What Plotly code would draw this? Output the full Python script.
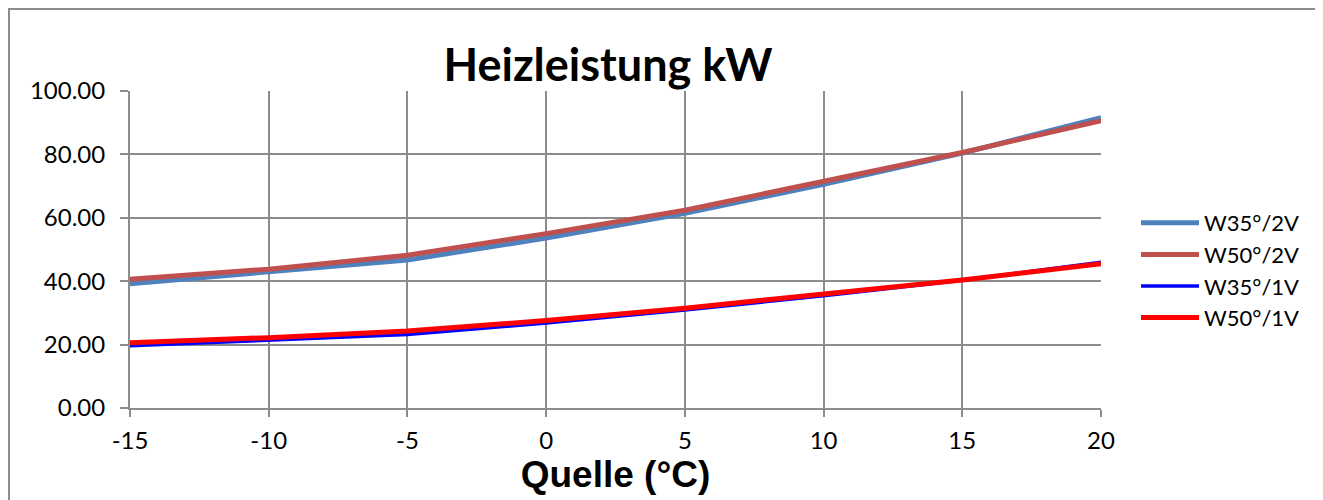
import plotly.graph_objects as go

quelle = [-15, -10, -5, 0, 5, 10, 15, 20]
w35_2v = [39.2, 42.8, 46.7, 53.6, 61.4, 70.6, 80.4, 91.6]
w50_2v = [40.6, 43.8, 48.2, 55.0, 62.4, 71.4, 80.6, 90.6]
w35_1v = [19.6, 21.4, 23.2, 26.8, 30.9, 35.4, 40.3, 46.0]
w50_1v = [20.6, 22.2, 24.3, 27.6, 31.5, 35.9, 40.4, 45.5]
series_names = ["W35°/2V", "W50°/2V", "W35°/1V", "W50°/1V"]
series_colors = ["#4F81BD", "#C0504D", "#0000FF", "#FF0000"]
series_widths = [5, 5, 3.5, 5]

fig = go.Figure()
for name, vals, col, w in zip(series_names, [w35_2v, w50_2v, w35_1v, w50_1v], series_colors, series_widths):
    fig.add_trace(go.Scatter(x=quelle, y=vals, mode="lines", name=name,
                             line=dict(color=col, width=w)))

OFF = 8  # page body margin
W, H = 1323 - OFF, 500 - OFF   # fit inside the window without scrollbars
L, R, T, B = 130 - OFF, 1101 - OFF, 91 - OFF, 408 - OFF

def px(xp):
    return (xp - OFF - L) / (R - L)

def py(yp):
    return (B - (yp - OFF)) / (B - T)

fig.update_layout(
    width=W, height=H,
    margin=dict(l=L, r=W - R, t=T, b=H - B),
    paper_bgcolor="white", plot_bgcolor="white",
    font=dict(family="Lato, Open Sans, sans-serif", color="black", size=24),
    title=dict(text="<b>Heizleistung kW</b>", x=(608 - OFF) / W, xanchor="center",
               y=1 - (65 - OFF) / H, yanchor="middle",
               font=dict(size=45, family="Lato, Open Sans, sans-serif", color="black")),
    legend=dict(x=px(1136), xanchor="left", y=py(202), yanchor="top",
                font=dict(size=22), tracegroupgap=0, itemwidth=58,
                bgcolor="rgba(0,0,0,0)"),
    xaxis=dict(range=[-15, 20], tickvals=quelle, ticktext=[str(v) for v in quelle],
               showgrid=True, gridcolor="#8C8C8C", gridwidth=2,
               zeroline=False, showline=True, linecolor="#8C8C8C", linewidth=2,
               ticks="outside", ticklen=7, tickcolor="#8C8C8C", tickwidth=2,
               tickfont=dict(size=24), ticklabelstandoff=3,
               title=dict(text="<b>Quelle (°C)</b>", standoff=2,
                          font=dict(size=37, family="Liberation Sans, Arial, sans-serif"))),
    yaxis=dict(range=[0, 100], tickvals=[0, 20, 40, 60, 80, 100],
               tickformat=".2f",
               showgrid=True, gridcolor="#8C8C8C", gridwidth=2,
               zeroline=False, showline=True, linecolor="#8C8C8C", linewidth=2,
               ticks="outside", ticklen=8, tickcolor="#8C8C8C", tickwidth=2,
               tickfont=dict(size=24), ticklabelstandoff=10),
)

# outer chart frame (as close to the page edge as the figure allows)
fig.add_shape(type="rect", xref="paper", yref="paper",
              x0=px(OFF + 1), x1=px(1360), y0=py(540), y1=py(OFF + 1),
              line=dict(color="#8C8C8C", width=2), fillcolor="rgba(0,0,0,0)", layer="below")

fig.write_html("out.html")
